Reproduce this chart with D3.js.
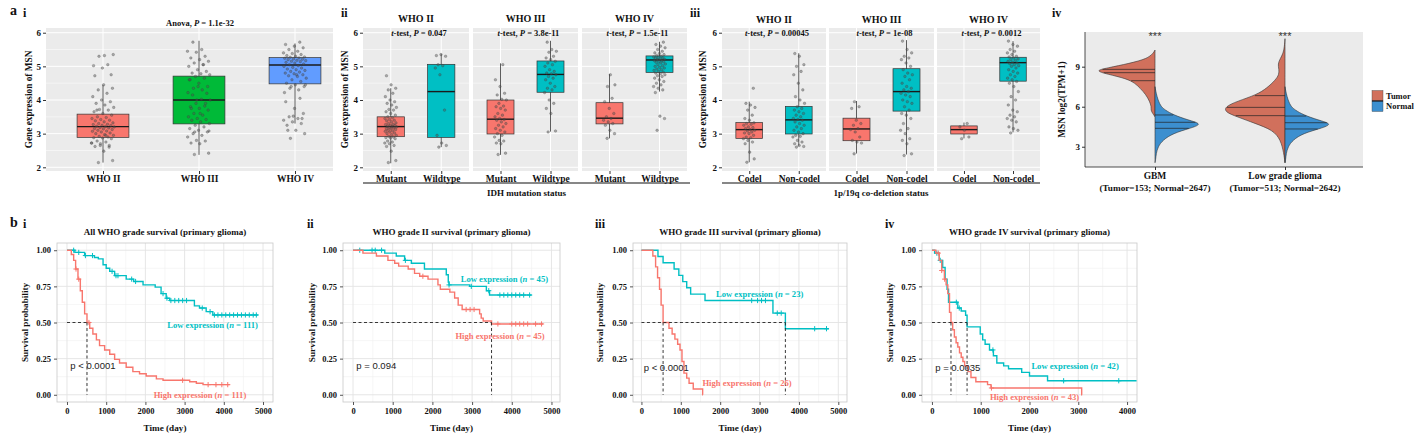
<!DOCTYPE html>
<html>
<head>
<meta charset="utf-8">
<script src="https://cdn.jsdelivr.net/npm/d3@7"></script>
<style>
body{margin:0;background:#fff;}
svg{display:block;}
</style>
</head>
<body>
<svg id="fig" width="1418" height="438"></svg>
<script>
// ---------- data: panel a ----------
var gradeCats = ["WHO II", "WHO III", "WHO IV"]
var gradeColors = ["#F8766D", "#00BA38", "#619CFF"]
// box stats: [lower whisker, q1, median, q3, upper whisker]
var gradeBoxes = [[2.14, 2.89, 3.21, 3.58, 4.45], [2.37, 3.29, 4.0, 4.71, 5.76], [3.3, 4.48, 5.04, 5.26, 5.68]]

var idhCats = ["Mutant", "Wildtype"]
var idhBoxesII = [[2.12, 2.91, 3.21, 3.50, 4.35], [2.6, 2.89, 4.25, 5.06, 5.37]]
var idhBoxesIII = [[2.37, 2.99, 3.43, 4.0, 5.09], [3.06, 4.23, 4.76, 5.16, 5.76]]
var idhBoxesIV = [[2.86, 3.29, 3.46, 3.92, 4.77], [4.25, 4.82, 5.19, 5.31, 5.73]]
var idhP = ["0.047", "3.8e-11", "1.5e-11"]

var codelCats = ["Codel", "Non-codel"]
var codelBoxesII = [[2.15, 2.86, 3.12, 3.33, 3.95], [2.64, 2.99, 3.41, 3.81, 5.39]]
var codelBoxesIII = [[2.41, 2.79, 3.14, 3.46, 3.97], [2.38, 3.67, 4.25, 4.93, 5.78]]
var codelBoxesIV = [[2.86, 2.99, 3.12, 3.23, 3.33], [3.04, 4.56, 5.11, 5.27, 5.75]]
var codelP = ["0.00045", "1e-08", "0.0012"]

// jittered sample values (MSN expression)
var ptsIIMut = [2.14, 2.2, 2.48, 2.62, 2.65, 2.7, 2.72, 2.75, 2.78, 2.85, 2.87, 2.88, 2.9, 2.92, 2.95, 2.97, 3.0, 3.02, 3.05, 3.07, 3.08, 3.1, 3.12, 3.14, 3.15, 3.17, 3.18, 3.2, 3.21, 3.22, 3.24, 3.25, 3.27, 3.28, 3.3, 3.32, 3.35, 3.38, 3.4, 3.42, 3.45, 3.48, 3.5, 3.55, 3.6, 3.65, 3.7, 3.72, 3.78, 3.85, 3.9, 3.95, 4.0, 4.1, 4.2, 4.3, 4.35, 4.45, 4.72]
var ptsIIWild = [2.6, 2.65, 2.72, 2.95, 3.7, 4.75, 4.95, 5.02, 5.05, 5.3, 5.35, 5.32]
var ptsIIIMut = [2.38, 2.42, 2.7, 2.72, 2.78, 2.8, 2.9, 2.95, 3.0, 3.05, 3.1, 3.15, 3.2, 3.25, 3.3, 3.35, 3.4, 3.42, 3.45, 3.5, 3.55, 3.6, 3.7, 3.75, 3.8, 3.82, 3.9, 4.0, 4.02, 4.15, 4.2, 4.4, 4.6, 5.05]
var ptsIIIWild = [3.05, 3.08, 3.6, 3.75, 3.9, 4.0, 4.22, 4.3, 4.35, 4.4, 4.5, 4.6, 4.65, 4.7, 4.75, 4.78, 4.8, 4.85, 4.9, 5.0, 5.05, 5.1, 5.15, 5.2, 5.25, 5.3, 5.42, 5.45, 5.5, 5.72]
var ptsIVMut = [2.86, 3.0, 3.1, 3.25, 3.3, 3.35, 3.4, 3.45, 3.5, 3.6, 3.75, 3.95, 4.05, 4.4, 4.45, 4.75]
var ptsIVWild = [3.1, 3.45, 3.52, 4.22, 4.3, 4.35, 4.4, 4.45, 4.5, 4.55, 4.6, 4.65, 4.7, 4.72, 4.75, 4.78, 4.8, 4.83, 4.85, 4.88, 4.9, 4.92, 4.95, 4.97, 5.0, 5.02, 5.05, 5.07, 5.1, 5.12, 5.14, 5.15, 5.17, 5.18, 5.2, 5.21, 5.22, 5.24, 5.25, 5.27, 5.28, 5.3, 5.32, 5.35, 5.38, 5.4, 5.45, 5.5, 5.55, 5.6, 5.65, 5.72]

var ptsIICodel = [2.15, 2.25, 2.45, 2.7, 2.75, 2.8, 2.85, 2.88, 2.9, 2.95, 3.0, 3.02, 3.05, 3.08, 3.1, 3.12, 3.15, 3.18, 3.2, 3.25, 3.28, 3.3, 3.32, 3.4, 3.45, 3.55, 3.7, 3.78, 3.85, 3.9, 4.35]
var ptsIINon = [2.6, 2.62, 2.65, 2.7, 2.75, 2.8, 2.9, 2.92, 2.95, 3.0, 3.05, 3.1, 3.15, 3.2, 3.25, 3.3, 3.35, 3.4, 3.42, 3.45, 3.5, 3.55, 3.6, 3.65, 3.7, 3.75, 3.8, 3.9, 4.0, 4.1, 4.3, 4.5, 4.75, 4.85, 5.0, 5.05, 5.3, 5.38]
var ptsIIICodel = [2.4, 2.72, 2.75, 2.8, 2.9, 3.05, 3.12, 3.15, 3.25, 3.3, 3.4, 3.75, 3.8, 3.95]
var ptsIIINon = [2.35, 2.4, 2.7, 2.8, 2.85, 3.0, 3.1, 3.15, 3.3, 3.45, 3.55, 3.6, 3.7, 3.8, 3.9, 3.95, 4.0, 4.1, 4.15, 4.2, 4.25, 4.3, 4.35, 4.4, 4.5, 4.6, 4.7, 4.75, 4.8, 4.9, 5.0, 5.1, 5.2, 5.25, 5.3, 5.4, 5.5, 5.75]
var ptsIVCodel = [2.85, 2.9, 3.1, 3.2, 3.3]
var ptsIVNon = [3.02, 3.1, 3.15, 3.2, 3.35, 3.4, 3.45, 3.5, 3.55, 3.65, 3.7, 3.85, 4.0, 4.1, 4.25, 4.4, 4.5, 4.55, 4.6, 4.65, 4.7, 4.75, 4.8, 4.85, 4.9, 4.95, 5.0, 5.02, 5.05, 5.08, 5.1, 5.12, 5.15, 5.18, 5.2, 5.22, 5.25, 5.28, 5.3, 5.35, 5.4, 5.45, 5.5, 5.6, 5.65, 5.75]

// a(iv) split violins: [value, relative density]
var violinCats = ["GBM", "Low grade glioma"]
var violinSub = ["(Tumor=153; Normal=2647)", "(Tumor=513; Normal=2642)"]
var gbmTumor = [[10.25, 0], [10.0, 0.03], [9.6, 0.13], [9.25, 0.42], [8.9, 0.8], [8.7, 1.0], [8.45, 0.8], [8.1, 0.47], [7.75, 0.33], [7.4, 0.25], [6.9, 0.15], [6.4, 0.09], [6.0, 0.06], [5.75, 0.07], [5.5, 0.04], [5.25, 0]]
var gbmNormal = [[7.5, 0], [7.0, 0.02], [6.5, 0.05], [6.0, 0.1], [5.75, 0.17], [5.4, 0.3], [5.0, 0.55], [4.7, 0.8], [4.38, 0.58], [4.0, 0.3], [3.5, 0.13], [3.0, 0.05], [2.5, 0.02], [2.0, 0.01], [1.8, 0]]
var lggTumor = [[11.1, 0], [10.5, 0.01], [10.0, 0.03], [9.6, 0.08], [9.2, 0.12], [8.8, 0.1], [8.4, 0.1], [8.0, 0.16], [7.4, 0.3], [6.9, 0.47], [6.4, 0.8], [6.0, 1.0], [5.6, 1.0], [5.25, 0.8], [4.75, 0.5], [4.25, 0.2], [3.5, 0.07], [2.5, 0.02], [1.8, 0]]
var lggNormal = [[7.5, 0], [7.0, 0.02], [6.5, 0.05], [6.0, 0.1], [5.75, 0.17], [5.4, 0.3], [5.0, 0.55], [4.7, 0.8], [4.38, 0.6], [4.0, 0.3], [3.5, 0.13], [3.0, 0.05], [2.5, 0.02], [2.0, 0.01], [1.8, 0]]
var gbmTumorQ = [7.95, 8.55, 8.8], gbmNormalQ = [4.38, 4.83, 5.38]
var lggTumorQ = [5.33, 5.95, 6.83], lggNormalQ = [4.33, 4.8, 5.3]

// ---------- data: panel b (Kaplan-Meier) ----------
var km1LowT = [0, 200, 450, 700, 800, 920, 1000, 1090, 1215, 1510, 1700, 1940, 2250, 2400, 2530, 2620, 3250, 3380, 3550, 3720, 4870]
var km1LowS = [1, 0.985, 0.963, 0.95, 0.94, 0.90, 0.875, 0.854, 0.824, 0.80, 0.784, 0.76, 0.745, 0.70, 0.668, 0.652, 0.615, 0.60, 0.575, 0.552, 0.552]
var km1LowCens = [170, 300, 470, 650, 1150, 1250, 1300, 1650, 1750, 2450, 2550, 2650, 2750, 2850, 2950, 3050, 3450, 3650, 3760, 3850, 3950, 4050, 4150, 4250, 4350, 4450, 4550, 4650, 4750, 4830]
var km1HighT = [0, 110, 170, 220, 280, 340, 390, 450, 510, 580, 660, 750, 830, 960, 1090, 1215, 1340, 1510, 1680, 1850, 2020, 2280, 2450, 3130, 3300, 3470, 4150]
var km1HighS = [1, 0.97, 0.93, 0.87, 0.80, 0.72, 0.64, 0.56, 0.50, 0.46, 0.42, 0.38, 0.34, 0.31, 0.28, 0.245, 0.22, 0.19, 0.16, 0.145, 0.13, 0.11, 0.10, 0.09, 0.08, 0.07, 0.07]
var km1HighCens = [230, 300, 560, 2950, 3600, 3800, 3950, 4100]

var km2LowT = [0, 800, 1090, 1300, 1470, 1800, 2350, 2400, 2420, 2940, 3360, 3440, 4500]
var km2LowS = [1, 0.98, 0.96, 0.93, 0.91, 0.87, 0.83, 0.78, 0.76, 0.75, 0.72, 0.69, 0.69]
var km2LowCens = [170, 480, 560, 720, 1320, 2420, 2980, 3420, 3700, 3800, 3900, 4000, 4100, 4200, 4300, 4450]
var km2HighT = [0, 250, 590, 880, 1050, 1150, 1390, 1550, 1680, 1890, 2140, 2200, 2440, 2560, 2650, 2750, 3190, 3230, 3280, 3490, 4790]
var km2HighS = [1, 0.98, 0.96, 0.93, 0.91, 0.89, 0.87, 0.84, 0.82, 0.80, 0.76, 0.73, 0.71, 0.67, 0.62, 0.59, 0.56, 0.53, 0.51, 0.49, 0.49]
var km2HighCens = [1760, 2850, 2950, 3050, 3650, 4000, 4100, 4200, 4300, 4400, 4600, 4750]

var km3LowT = [0, 420, 550, 830, 950, 1050, 1150, 1250, 1615, 3340, 3656, 4760]
var km3LowS = [1, 0.957, 0.913, 0.87, 0.826, 0.783, 0.74, 0.696, 0.652, 0.565, 0.457, 0.457]
var km3LowCens = [2800, 2950, 3050, 3150, 3450, 3550, 4400, 4700]
var km3HighT = [0, 290, 360, 410, 460, 500, 550, 700, 780, 850, 920, 980, 1030, 1080, 1150, 1210, 1316, 1555, 1560]
var km3HighS = [1, 0.96, 0.885, 0.81, 0.73, 0.62, 0.50, 0.46, 0.42, 0.385, 0.35, 0.31, 0.23, 0.15, 0.115, 0.08, 0.04, 0, 0]
var km3HighCens = []

var km4LowT = [0, 54, 150, 220, 270, 310, 340, 530, 600, 690, 720, 990, 1040, 1090, 1180, 1260, 1330, 1470, 1570, 1840, 2000, 2370, 4195]
var km4LowS = [1, 0.98, 0.93, 0.88, 0.80, 0.73, 0.64, 0.60, 0.58, 0.55, 0.47, 0.42, 0.38, 0.35, 0.31, 0.27, 0.22, 0.20, 0.18, 0.155, 0.13, 0.097, 0.097]
var km4LowCens = [100, 170, 500, 560, 1250, 2700, 3830]
var km4HighT = [0, 80, 150, 200, 255, 290, 325, 360, 390, 425, 460, 495, 530, 565, 600, 635, 670, 740, 800, 900, 1140, 1210, 3070, 3080]
var km4HighS = [1, 0.98, 0.93, 0.86, 0.80, 0.76, 0.70, 0.57, 0.50, 0.45, 0.40, 0.36, 0.33, 0.29, 0.26, 0.23, 0.20, 0.16, 0.12, 0.09, 0.07, 0.047, 0, 0]
var km4HighCens = [130, 200, 260, 1220]

// ---------- drawing ----------
var svg = d3.select("#fig")
var SERIF = "'Liberation Serif','Times New Roman',serif"
var SANS = "'Liberation Sans',Arial,sans-serif"
var RED = "#F8766D", TEAL = "#00BFC4"
var TUMOR = "#D1705C", NORMAL = "#3C8FCF"

svg.append("rect").attr("width", 1418).attr("height", 438).attr("fill", "#fff")

function addText(x, y, parts, o) {
    o = o || {}
    var t = svg.append("text").attr("x", x).attr("y", y)
        .attr("font-family", o.family || SERIF)
        .attr("font-weight", o.weight || "bold")
        .attr("font-size", o.size || 9)
        .attr("fill", o.fill || "#111")
        .attr("text-anchor", o.anchor || "middle")
    if (o.rotate) t.attr("transform", `rotate(-90,${x},${y})`)
    if (o.dy) t.attr("dy", o.dy)
    if (typeof parts === "string") parts = [[parts, 0]]
    parts.forEach(p => t.append("tspan").attr("font-style", p[1] ? "italic" : null).text(p[0]))
    return t
}

function styleAxis(g, size, tickColor) {
    g.select(".domain").remove()
    g.selectAll("line").attr("stroke", tickColor || "#333")
    g.selectAll("text").attr("font-family", SERIF).attr("font-weight", "bold")
        .attr("font-size", size).attr("fill", "#111")
}

// box + jitter panel (ggplot grey theme)
function boxPanel(o) {
    var g = svg.append("g")
    var y = d3.scaleLinear().domain([1.89, 6.14]).range([o.y1, o.y0])
    var x = d3.scalePoint().domain(o.cats).range(o.range || [o.x0, o.x1]).padding(o.pad || 0)
    var step = x(o.cats[1]) - x(o.cats[0])
    var bw = step * 0.54, jit = step * 0.12

    g.append("rect").attr("x", o.x0).attr("y", o.y0).attr("width", o.x1 - o.x0).attr("height", o.y1 - o.y0).attr("fill", "#EBEBEB")
    g.selectAll(null).data([2.5, 3.5, 4.5, 5.5]).join("line")
        .attr("x1", o.x0).attr("x2", o.x1).attr("y1", d => y(d)).attr("y2", d => y(d))
        .attr("stroke", "#fff").attr("stroke-width", 0.5)
    g.selectAll(null).data([2, 3, 4, 5, 6]).join("line")
        .attr("x1", o.x0).attr("x2", o.x1).attr("y1", d => y(d)).attr("y2", d => y(d))
        .attr("stroke", "#fff").attr("stroke-width", 1)
    g.selectAll(null).data(o.cats).join("line")
        .attr("x1", d => x(d)).attr("x2", d => x(d)).attr("y1", o.y0).attr("y2", o.y1)
        .attr("stroke", "#fff").attr("stroke-width", 1)

    o.cats.forEach((c, i) => {
        var b = o.boxes[i], cx = x(c)
        g.append("line").attr("x1", cx).attr("x2", cx).attr("y1", y(b[0])).attr("y2", y(b[4]))
            .attr("stroke", "#333").attr("stroke-width", 0.8)
        g.append("rect").attr("x", cx - bw / 2).attr("width", bw).attr("y", y(b[3])).attr("height", y(b[1]) - y(b[3]))
            .attr("fill", o.colors[i]).attr("stroke", "#333").attr("stroke-width", 0.7)
        g.append("line").attr("x1", cx - bw / 2).attr("x2", cx + bw / 2).attr("y1", y(b[2])).attr("y2", y(b[2]))
            .attr("stroke", "#1a1a1a").attr("stroke-width", 1.4)
        g.selectAll(null).data(o.points[i]).join("circle")
            .attr("cx", (d, k) => cx + (((k * 0.618034 + 0.3) % 1) - 0.5) * 2 * jit)
            .attr("cy", d => y(d)).attr("r", 1.3)
            .attr("fill", "#555").attr("fill-opacity", 0.45)
            .attr("stroke", "#333").attr("stroke-opacity", 0.6).attr("stroke-width", 0.4)
    })

    if (o.yAxis) {
        var ya = g.append("g").attr("transform", `translate(${o.x0},0)`)
            .call(d3.axisLeft(y).tickValues([2, 3, 4, 5, 6]).tickFormat(d3.format("d")).tickSize(3).tickPadding(2))
        styleAxis(ya, 9)
    }
    var xa = g.append("g").attr("transform", `translate(0,${o.y1})`)
        .call(d3.axisBottom(x).tickSize(3).tickPadding(1))
    styleAxis(xa, 9.5)
    return { x: x, y: y }
}

// ----- a(i)
addText(10, 15, "a", { size: 14, anchor: "start" })
addText(23, 17, "i", { size: 12, anchor: "start" })
boxPanel({
    x0: 46, x1: 333, y0: 28, y1: 171, cats: gradeCats, range: [103, 295], colors: gradeColors, boxes: gradeBoxes,
    points: [ptsIIMut.concat(ptsIIWild), ptsIIIMut.concat(ptsIIIWild), ptsIVMut.concat(ptsIVWild)], yAxis: true
})
addText(200, 25.5, [["Anova, ", 0], ["P", 1], [" = 1.1e-32", 0]], { size: 8.5 })
addText(32, 99.5, "Gene expression of MSN", { size: 9.3, rotate: true })

// ----- a(ii) / a(iii) faceted panels
function facetRow(facets, cats, boxSets, pointSets, pvals, stripY, axisTitle, axisX0, axisX1) {
    facets.forEach((f, i) => {
        boxPanel({
            x0: f[0], x1: f[1], y0: 28, y1: 171, cats: cats, pad: 0.55, colors: [RED, TEAL],
            boxes: boxSets[i], points: pointSets[i], yAxis: i === 0
        })
        var mid = (f[0] + f[1]) / 2
        addText(mid, stripY, gradeCats[i], { size: 10 })
        addText(mid + 3, 36, [["t", 1], ["-test, ", 0], ["P", 1], [" = " + pvals[i], 0]], { size: 8.5 })
    })
    svg.append("line").attr("x1", axisX0).attr("x2", axisX1).attr("y1", 183).attr("y2", 183)
        .attr("stroke", "#111").attr("stroke-width", 1.2)
    addText((axisX0 + axisX1) / 2, 196, axisTitle, { size: 9 })
}

addText(341, 17, "ii", { size: 12, anchor: "start" })
facetRow([[363, 469], [473, 578], [582, 687]], idhCats,
    [idhBoxesII, idhBoxesIII, idhBoxesIV],
    [[ptsIIMut, ptsIIWild], [ptsIIIMut, ptsIIIWild], [ptsIVMut, ptsIVWild]],
    idhP, 21.5, "IDH mutation status", 363, 690)
addText(348, 99.5, "Gene expression of MSN", { size: 9.3, rotate: true })

addText(690, 17, "iii", { size: 12, anchor: "start" })
facetRow([[722, 826], [829, 934], [937, 1040]], codelCats,
    [codelBoxesII, codelBoxesIII, codelBoxesIV],
    [[ptsIICodel, ptsIINon], [ptsIIICodel, ptsIIINon], [ptsIVCodel, ptsIVNon]],
    codelP, 22.5, "1p/19q co-deletion status", 722, 1040)
addText(706, 99.5, "Gene expression of MSN", { size: 9.3, rotate: true })

// ----- a(iv) split violins
addText(1052, 17, "iv", { size: 12, anchor: "start" })
;(function () {
    var x0 = 1085, x1 = 1363, y0 = 32, y1 = 167, W = 60
    var g = svg.append("g")
    var y = d3.scaleLinear().domain([1.48, 11.6]).range([y1, y0])
    var x = d3.scalePoint().domain(violinCats).range([x0 + 70, x1 - 78])
    g.append("rect").attr("x", x0).attr("y", y0).attr("width", x1 - x0).attr("height", y1 - y0).attr("fill", "#EBEBEB")

    function widthAt(prof, v) {
        for (var i = 0; i < prof.length - 1; i++) {
            var a = prof[i], b = prof[i + 1]
            if (v <= a[0] && v >= b[0]) return a[1] + (b[1] - a[1]) * (a[0] - v) / (a[0] - b[0])
        }
        return 0
    }
    function half(cx, prof, qs, side, color) {
        var area = d3.area().curve(d3.curveBasis)
            .y(d => y(d[0])).x0(cx).x1(d => cx + side * d[1] * W)
        g.append("path").datum(prof).attr("d", area).attr("fill", color)
            .attr("stroke", "#333").attr("stroke-width", 0.6)
        qs.forEach(q => {
            g.append("line").attr("x1", cx).attr("x2", cx + side * widthAt(prof, q) * W * 0.97)
                .attr("y1", y(q)).attr("y2", y(q)).attr("stroke", "#222").attr("stroke-width", 0.7)
        })
    }
    half(x(violinCats[0]), gbmTumor, gbmTumorQ, -1, TUMOR)
    half(x(violinCats[0]), gbmNormal, gbmNormalQ, 1, NORMAL)
    half(x(violinCats[1]), lggTumor, lggTumorQ, -1, TUMOR)
    half(x(violinCats[1]), lggNormal, lggNormalQ, 1, NORMAL)

    violinCats.forEach(c => addText(x(c), y(11.0), "***", { size: 11, family: SANS, weight: "normal", fill: "#333" }))

    var ya = g.append("g").attr("transform", `translate(${x0},0)`)
        .call(d3.axisLeft(y).tickValues([3, 6, 9]).tickFormat(d3.format("d")).tickSize(3).tickPadding(2))
    styleAxis(ya, 9)
    var xa = g.append("g").attr("transform", `translate(0,${y1})`)
        .call(d3.axisBottom(x).tickSize(3).tickFormat(""))
    styleAxis(xa, 9)
    g.append("line").attr("x1", x0).attr("x2", x0).attr("y1", y0).attr("y2", y1).attr("stroke", "#222").attr("stroke-width", 0.8)
    g.append("line").attr("x1", x0).attr("x2", x1).attr("y1", y1).attr("y2", y1).attr("stroke", "#222").attr("stroke-width", 0.8)
    violinCats.forEach((c, i) => {
        addText(x(c), 179, c, { size: 9.5 })
        addText(x(c), 191, violinSub[i], { size: 9.2 })
    })
    addText(1065, (y0 + y1) / 2, "MSN log2(TPM+1)", { size: 9.3, rotate: true })

    // legend
    var lg = svg.append("g")
    ;[["Tumor", TUMOR], ["Normal", NORMAL]].forEach((d, i) => {
        lg.append("rect").attr("x", 1372).attr("y", 90.5 + i * 10.5).attr("width", 11).attr("height", 10.5)
            .attr("fill", d[1]).attr("stroke", "#444").attr("stroke-width", 0.4)
        addText(1386, 98.5 + i * 10.5, d[0], { size: 8.5, anchor: "start" })
    })
    lg.append("line").attr("x1", 1372).attr("x2", 1383).attr("y1", 101).attr("y2", 101).attr("stroke", "#111").attr("stroke-width", 1)
})()

// ---------- Kaplan-Meier panels ----------
function survAt(c, t) {
    var i = d3.bisectRight(c.t, t) - 1
    return c.s[Math.max(0, i)]
}

function kmPanel(o) {
    var g = svg.append("g")
    var x = d3.scaleLinear().domain(o.xdom).range([o.x0, o.x1])
    var y = d3.scaleLinear().domain([-0.05, 1.05]).range([o.y1, o.y0])
    var xt = d3.range(0, o.xmax + 1, 1000)
    var yt = [0, 0.25, 0.5, 0.75, 1]

    g.append("rect").attr("x", o.x0).attr("y", o.y0).attr("width", o.x1 - o.x0).attr("height", o.y1 - o.y0).attr("fill", "#fff")
    g.selectAll(null).data(d3.range(500, o.xdom[1], 1000)).join("line")
        .attr("x1", d => x(d)).attr("x2", d => x(d)).attr("y1", o.y0).attr("y2", o.y1)
        .attr("stroke", "#F0F0F0").attr("stroke-width", 0.6)
    g.selectAll(null).data([0.125, 0.375, 0.625, 0.875]).join("line")
        .attr("x1", o.x0).attr("x2", o.x1).attr("y1", d => y(d)).attr("y2", d => y(d))
        .attr("stroke", "#F0F0F0").attr("stroke-width", 0.6)
    g.selectAll(null).data(xt).join("line")
        .attr("x1", d => x(d)).attr("x2", d => x(d)).attr("y1", o.y0).attr("y2", o.y1)
        .attr("stroke", "#E3E3E3").attr("stroke-width", 0.9)
    g.selectAll(null).data(yt).join("line")
        .attr("x1", o.x0).attr("x2", o.x1).attr("y1", d => y(d)).attr("y2", d => y(d))
        .attr("stroke", "#E3E3E3").attr("stroke-width", 0.9)
    g.append("rect").attr("x", o.x0).attr("y", o.y0).attr("width", o.x1 - o.x0).attr("height", o.y1 - o.y0)
        .attr("fill", "none").attr("stroke", "#C8C8C8").attr("stroke-width", 0.8)

    var line = d3.line().x(d => x(d[0])).y(d => y(d[1])).curve(d3.curveStepAfter)
    o.curves.forEach(c => {
        g.append("path").datum(c.t.map((t, i) => [t, c.s[i]])).attr("d", line)
            .attr("fill", "none").attr("stroke", c.color).attr("stroke-width", 1.4)
        c.cens.forEach(t => {
            var cx = x(t), cy = y(survAt(c, t))
            g.append("path").attr("d", `M${cx - 2.6},${cy}H${cx + 2.6}M${cx},${cy - 2.6}V${cy + 2.6}`)
                .attr("stroke", c.color).attr("stroke-width", 1)
        })
    })

    // median survival lines
    var meds = o.curves.map(c => {
        var i = c.s.findIndex(v => v <= 0.5)
        return i < 0 ? null : c.t[i]
    }).filter(m => m != null)
    if (meds.length) {
        g.append("line").attr("x1", x(0)).attr("x2", x(d3.max(meds))).attr("y1", y(0.5)).attr("y2", y(0.5))
            .attr("stroke", "#222").attr("stroke-width", 0.9).attr("stroke-dasharray", "3,2.5")
        meds.forEach(m => {
            g.append("line").attr("x1", x(m)).attr("x2", x(m)).attr("y1", y(0.5)).attr("y2", y(0))
                .attr("stroke", "#222").attr("stroke-width", 0.9).attr("stroke-dasharray", "3,2.5")
        })
    }

    var xa = g.append("g").attr("transform", `translate(0,${o.y1})`)
        .call(d3.axisBottom(x).tickValues(xt).tickFormat(d3.format("d")).tickSize(3).tickPadding(3))
    styleAxis(xa, 8.5, "#555")
    var ya = g.append("g").attr("transform", `translate(${o.x0},0)`)
        .call(d3.axisLeft(y).tickValues(yt).tickFormat(d3.format(".2f")).tickSize(3).tickPadding(3))
    styleAxis(ya, 8.5, "#555")

    o.labels.forEach(l => addText(x(l.t), y(l.s), l.parts, { size: 8.6, anchor: "end", fill: l.color, dy: "0.35em" }))
    addText(x(o.p[0]), y(o.p[1]), o.p[2], { size: 9.5, family: SANS, weight: "normal", anchor: "start", fill: "#222", dy: "0.35em" })

    var mid = (o.x0 + o.x1) / 2
    addText(mid, 235, o.title, { size: 9 })
    addText(mid, 431, "Time (day)", { size: 9.2 })
    addText(o.yl, (o.y0 + o.y1) / 2, "Survival probability", { size: 9.2, rotate: true })
}

function lab(name, n) { return [[name + " (", 0], ["n", 1], [" = " + n + ")", 0]] }

addText(10, 227, "b", { size: 14, anchor: "start" })
addText(23, 228, "i", { size: 12, anchor: "start" })
kmPanel({
    x0: 57, x1: 273, y0: 243, y1: 402, xdom: [-255, 5255], xmax: 5000, yl: 28,
    title: "All WHO grade survival (primary glioma)",
    curves: [{ t: km1LowT, s: km1LowS, cens: km1LowCens, color: TEAL }, { t: km1HighT, s: km1HighS, cens: km1HighCens, color: RED }],
    labels: [{ t: 4870, s: 0.48, parts: lab("Low expression", 111), color: TEAL }, { t: 4573, s: 0.0, parts: lab("High expression", 111), color: RED }],
    p: [85, 0.2, "p < 0.0001"]
})

addText(307, 228, "ii", { size: 12, anchor: "start" })
kmPanel({
    x0: 343, x1: 560, y0: 243, y1: 402, xdom: [-252, 5215], xmax: 5000, yl: 315,
    title: "WHO grade II survival (primary glioma)",
    curves: [{ t: km2LowT, s: km2LowS, cens: km2LowCens, color: TEAL }, { t: km2HighT, s: km2HighS, cens: km2HighCens, color: RED }],
    labels: [{ t: 4914, s: 0.80, parts: lab("Low expression", 45), color: TEAL }, { t: 4830, s: 0.41, parts: lab("High expression", 45), color: RED }],
    p: [84, 0.2, "p = 0.094"]
})

addText(595, 228, "iii", { size: 12, anchor: "start" })
kmPanel({
    x0: 633, x1: 847, y0: 243, y1: 402, xdom: [-214, 5221], xmax: 5000, yl: 603,
    title: "WHO grade III survival (primary glioma)",
    curves: [{ t: km3LowT, s: km3LowS, cens: km3LowCens, color: TEAL }, { t: km3HighT, s: km3HighS, cens: km3HighCens, color: RED }],
    labels: [{ t: 4112, s: 0.70, parts: lab("Low expression", 23), color: TEAL }, { t: 3817, s: 0.08, parts: lab("High expression", 26), color: RED }],
    p: [58, 0.19, "p < 0.0001"]
})

addText(885, 228, "iv", { size: 12, anchor: "start" })
kmPanel({
    x0: 922, x1: 1137, y0: 243, y1: 402, xdom: [-204, 4204], xmax: 4000, yl: 893,
    title: "WHO grade IV survival (primary glioma)",
    curves: [{ t: km4LowT, s: km4LowS, cens: km4LowCens, color: TEAL }, { t: km4HighT, s: km4HighS, cens: km4HighCens, color: RED }],
    labels: [{ t: 3830, s: 0.2, parts: lab("Low expression", 42), color: TEAL }, { t: 3019, s: -0.012, parts: lab("High expression", 43), color: RED }],
    p: [67, 0.19, "p = 0.0035"]
})
</script>
</body>
</html>
